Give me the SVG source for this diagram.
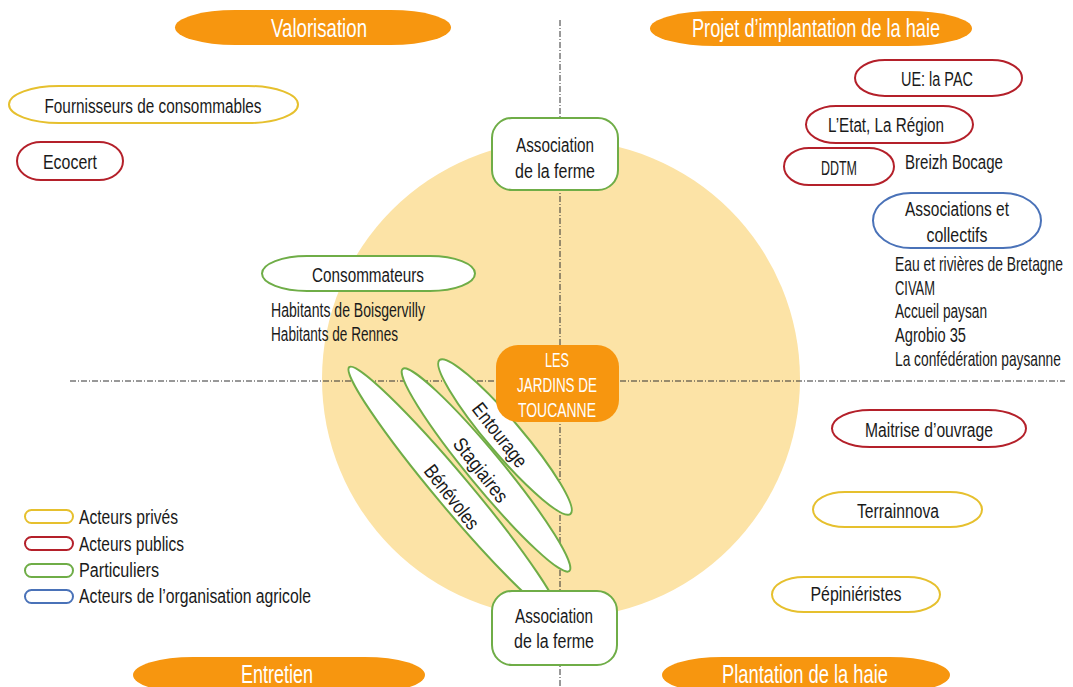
<svg xmlns="http://www.w3.org/2000/svg" width="1073" height="687" viewBox="0 0 1073 687">
<style>
text{font-family:"Liberation Sans",Arial,sans-serif;font-size:20px;fill:#1a1a1a}
.c{text-anchor:middle}
.w{fill:#ffffff;font-size:25px}
.wc{fill:#ffffff;font-size:20px}
.phase{fill:#F7960F}
.yel{fill:#fff;stroke:#E6C02E;stroke-width:2}
.red{fill:#fff;stroke:#B4202A;stroke-width:2}
.grn{fill:#fff;stroke:#6FAD47;stroke-width:2}
.blu{fill:#fff;stroke:#4A72B8;stroke-width:2}
.axis{stroke:#333;stroke-width:1;stroke-dasharray:6 2 1 2;fill:none}
</style>
<rect width="1073" height="687" fill="#fff"/>
<circle cx="561" cy="379" r="239" fill="#FCE3A6"/>
<g id="connectors">
<line class="axis" x1="560" y1="20" x2="560" y2="687"/>
<line class="axis" x1="70" y1="381" x2="1065" y2="381"/>
</g>
<g id="valorisation"><rect class="phase" x="175" y="10" width="276" height="35" rx="60" ry="17.5"/><text class="w c" x="319" y="37" textLength="96" lengthAdjust="spacingAndGlyphs">Valorisation</text></g>
<g id="projet"><rect class="phase" x="650" y="11" width="322" height="35" rx="65" ry="17.5"/><text class="w c" x="816" y="37" textLength="248" lengthAdjust="spacingAndGlyphs">Projet d’implantation de la haie</text></g>
<g id="entretien"><rect class="phase" x="133" y="657" width="292" height="36" rx="60" ry="18"/><text class="w c" x="277" y="683" textLength="72" lengthAdjust="spacingAndGlyphs">Entretien</text></g>
<g id="plantation"><rect class="phase" x="662" y="657" width="288" height="36" rx="60" ry="18"/><text class="w c" x="805" y="683" textLength="166" lengthAdjust="spacingAndGlyphs">Plantation de la  haie</text></g>

<g id="fournisseurs"><rect class="yel" x="9" y="86" width="289" height="37" rx="50" ry="18.5"/><text class="c" x="153" y="113" textLength="217" lengthAdjust="spacingAndGlyphs">Fournisseurs de consommables</text></g>
<g id="ecocert"><rect class="red" x="17" y="142" width="106" height="38" rx="24" ry="19"/><text class="c" x="70" y="169" textLength="54" lengthAdjust="spacingAndGlyphs">Ecocert</text></g>

<g id="asso-top"><rect class="grn" x="492" y="118" width="126" height="72" rx="20"/><text class="c" x="555" y="152" textLength="78" lengthAdjust="spacingAndGlyphs">Association</text><text class="c" x="555" y="178" textLength="80" lengthAdjust="spacingAndGlyphs">de la ferme</text></g>

<g id="consommateurs"><rect class="grn" x="262" y="256" width="213" height="35" rx="45" ry="17.5"/><text class="c" x="368" y="282" textLength="112" lengthAdjust="spacingAndGlyphs">Consommateurs</text></g>
<g id="habitants"><text x="271" y="317" textLength="154" lengthAdjust="spacingAndGlyphs">Habitants de Boisgervilly</text><text x="271" y="341" textLength="127" lengthAdjust="spacingAndGlyphs">Habitants de Rennes</text></g>

<g id="benevoles"><ellipse class="grn" cx="454" cy="492" rx="163" ry="17" transform="rotate(50 454 492)"/><text class="c" x="0" y="7" transform="translate(452,497) rotate(52)" textLength="76" lengthAdjust="spacingAndGlyphs">Bénévoles</text></g>
<g id="stagiaires"><ellipse class="grn" cx="486" cy="470" rx="131" ry="17" transform="rotate(50.5 486 470)"/><text class="c" x="0" y="7" transform="translate(481,470) rotate(52)" textLength="76" lengthAdjust="spacingAndGlyphs">Stagiaires</text></g>
<g id="entourage"><ellipse class="grn" cx="505" cy="437" rx="101" ry="17" transform="rotate(49.6 505 437)"/><text class="c" x="0" y="7" transform="translate(500,435) rotate(52)" textLength="76" lengthAdjust="spacingAndGlyphs">Entourage</text></g>

<g id="jardins"><rect class="phase" x="496" y="345" width="123" height="77" rx="22"/><text class="wc c" x="557" y="367" textLength="24" lengthAdjust="spacingAndGlyphs">LES</text><text class="wc c" x="557" y="392" textLength="80" lengthAdjust="spacingAndGlyphs">JARDINS DE</text><text class="wc c" x="557" y="417" textLength="78" lengthAdjust="spacingAndGlyphs">TOUCANNE</text></g>

<g id="asso-bottom"><rect class="grn" x="492" y="591" width="125" height="74" rx="20"/><text class="c" x="554" y="623" textLength="78" lengthAdjust="spacingAndGlyphs">Association</text><text class="c" x="554" y="648" textLength="80" lengthAdjust="spacingAndGlyphs">de la ferme</text></g>

<g id="ue"><rect class="red" x="855" y="60" width="167" height="36" rx="30" ry="18"/><text class="c" x="937" y="86" textLength="72" lengthAdjust="spacingAndGlyphs">UE: la PAC</text></g>
<g id="etat"><rect class="red" x="806" y="106" width="167" height="37" rx="30" ry="18.5"/><text class="c" x="886" y="132" textLength="116" lengthAdjust="spacingAndGlyphs">L’Etat, La Région</text></g>
<g id="ddtm"><rect class="red" x="784" y="148" width="110" height="37" rx="25" ry="18.5"/><text class="c" x="839" y="175" textLength="36" lengthAdjust="spacingAndGlyphs">DDTM</text></g>
<g id="breizh"><text x="905" y="169" textLength="98" lengthAdjust="spacingAndGlyphs">Breizh Bocage</text></g>
<g id="associations"><rect class="blu" x="873" y="193" width="168" height="55" rx="38" ry="27.5"/><text class="c" x="957" y="216" textLength="104" lengthAdjust="spacingAndGlyphs">Associations et</text><text class="c" x="957" y="242" textLength="61" lengthAdjust="spacingAndGlyphs">collectifs</text></g>
<g id="liste"><text transform="translate(895,271) scale(0.7,1)" textLength="240" lengthAdjust="spacingAndGlyphs">Eau et rivières de Bretagne</text><text x="895" y="295" textLength="40" lengthAdjust="spacingAndGlyphs">CIVAM</text><text x="895" y="318" textLength="92" lengthAdjust="spacingAndGlyphs">Accueil paysan</text><text x="895" y="342" textLength="71" lengthAdjust="spacingAndGlyphs">Agrobio 35</text><text transform="translate(895,366) scale(0.7,1)" textLength="237" lengthAdjust="spacingAndGlyphs">La confédération paysanne</text></g>

<g id="maitrise"><rect class="red" x="832" y="410" width="194" height="37" rx="38" ry="18.5"/><text class="c" x="929" y="437" textLength="128" lengthAdjust="spacingAndGlyphs">Maitrise d’ouvrage</text></g>
<g id="terrainnova"><rect class="yel" x="813" y="492" width="169" height="35" rx="32" ry="17.5"/><text class="c" x="898" y="518" textLength="82" lengthAdjust="spacingAndGlyphs">Terrainnova</text></g>
<g id="pepinieristes"><rect class="yel" x="772" y="577" width="168" height="35" rx="32" ry="17.5"/><text class="c" x="856" y="601" textLength="91" lengthAdjust="spacingAndGlyphs">Pépiniéristes</text></g>

<g id="legend">
<rect class="yel" x="25" y="510" width="48" height="13" rx="6.5"/><text x="79" y="524" textLength="99" lengthAdjust="spacingAndGlyphs">Acteurs privés</text>
<rect class="red" x="25" y="537" width="48" height="13" rx="6.5"/><text x="79" y="551" textLength="105" lengthAdjust="spacingAndGlyphs">Acteurs publics</text>
<rect class="grn" x="25" y="564" width="48" height="13" rx="6.5"/><text x="79" y="577" textLength="80" lengthAdjust="spacingAndGlyphs">Particuliers</text>
<rect class="blu" x="25" y="590" width="48" height="13" rx="6.5"/><text x="79" y="603" textLength="232" lengthAdjust="spacingAndGlyphs">Acteurs de l’organisation agricole</text>
</g>
</svg>
